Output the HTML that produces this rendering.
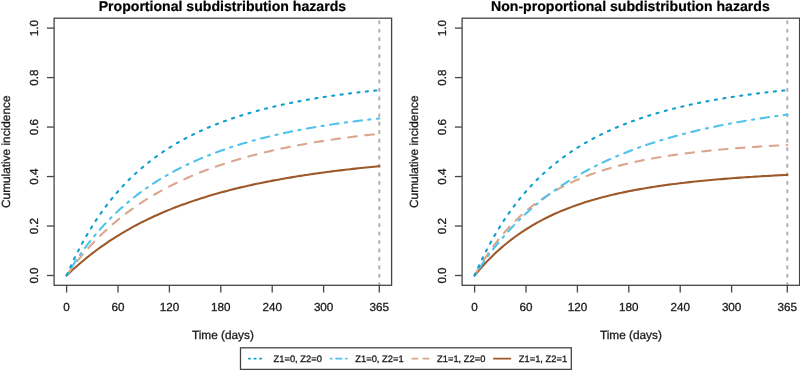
<!DOCTYPE html>
<html><head><meta charset="utf-8"><title>Cumulative incidence</title><style>
html,body{margin:0;padding:0;background:#fff;}
svg{display:block;will-change:transform;}
text{font-family:"Liberation Sans",sans-serif;fill:#1a1a1a;stroke:#1a1a1a;stroke-width:0.3px;text-rendering:geometricPrecision;}
.ttl{font-size:14.1px;font-weight:bold;text-anchor:middle;fill:#000;stroke:#000;stroke-width:0.2px;}
.tk{font-size:11.67px;text-anchor:middle;}
.lab{font-size:11.83px;text-anchor:middle;}
.lg{font-size:9.33px;}
</style></head><body>
<svg width="800" height="370" viewBox="0 0 800 370">
<rect width="800" height="370" fill="#fff"/>
<text x="222.4" y="10.7" class="ttl">Proportional subdistribution hazards</text>
<line x1="379.30" y1="285.30" x2="379.30" y2="18.20" stroke="#b2b2b2" stroke-width="2.1" stroke-dasharray="2.1 6.35" stroke-linecap="round"/>
<path d="M66.60,275.50 L69.10,273.12 L71.82,270.60 L74.32,268.32 L77.03,265.91 L79.53,263.74 L82.25,261.44 L84.96,259.19 L87.46,257.16 L90.17,255.01 L92.68,253.07 L95.39,251.02 L98.10,249.01 L100.60,247.20 L103.31,245.28 L105.82,243.55 L108.53,241.71 L111.24,239.92 L113.74,238.30 L116.46,236.58 L118.96,235.03 L121.67,233.39 L124.38,231.78 L126.89,230.33 L129.60,228.80 L132.10,227.41 L134.81,225.93 L137.53,224.49 L140.03,223.19 L142.74,221.81 L145.24,220.57 L147.96,219.24 L150.67,217.95 L153.17,216.78 L155.88,215.54 L158.39,214.42 L161.10,213.23 L163.81,212.07 L166.31,211.01 L169.03,209.90 L171.53,208.89 L174.24,207.81 L176.95,206.77 L179.46,205.82 L182.17,204.81 L184.67,203.90 L187.38,202.93 L190.09,201.98 L192.60,201.13 L195.31,200.22 L197.81,199.39 L200.52,198.52 L203.24,197.66 L205.74,196.89 L208.45,196.06 L210.96,195.32 L213.67,194.53 L216.38,193.75 L218.88,193.05 L221.59,192.30 L224.10,191.62 L226.81,190.91 L229.31,190.25 L232.02,189.56 L234.74,188.89 L237.24,188.27 L239.95,187.62 L242.45,187.03 L245.17,186.40 L247.88,185.78 L250.38,185.22 L253.09,184.63 L255.60,184.09 L258.31,183.52 L261.02,182.96 L263.52,182.45 L266.24,181.90 L268.74,181.41 L271.45,180.89 L274.16,180.38 L276.67,179.91 L279.38,179.42 L281.88,178.97 L284.59,178.49 L287.30,178.02 L289.81,177.60 L292.52,177.14 L295.02,176.73 L297.74,176.30 L300.45,175.87 L302.95,175.48 L305.66,175.06 L308.17,174.69 L310.88,174.29 L313.59,173.89 L316.09,173.54 L318.80,173.15 L321.31,172.81 L324.02,172.44 L326.73,172.08 L329.23,171.75 L331.95,171.40 L334.45,171.08 L337.16,170.75 L339.87,170.41 L342.38,170.11 L345.09,169.79 L347.59,169.50 L350.30,169.19 L353.02,168.88 L355.52,168.60 L358.23,168.30 L360.73,168.04 L363.45,167.75 L366.16,167.47 L368.66,167.21 L371.37,166.93 L373.88,166.69 L376.59,166.42 L379.30,166.16" fill="none" stroke="#9e592a" stroke-width="2.1" stroke-linecap="round" stroke-linejoin="round"/>
<path d="M67.23,274.61 L67.43,274.32 L68.27,273.15 L69.10,271.99 L69.94,270.84 L70.77,269.70 L71.61,268.57 L72.27,267.69 M77.42,261.02 L77.45,260.99 L78.28,259.95 L79.12,258.91 L79.95,257.89 L80.79,256.88 L81.62,255.87 L82.45,254.88 L82.85,254.41 M88.40,248.05 L88.50,247.94 L89.55,246.79 L90.59,245.65 L91.63,244.52 L92.68,243.41 L93.72,242.31 L94.22,241.78 M100.15,235.79 L100.19,235.75 L101.23,234.74 L102.27,233.73 L103.31,232.74 L104.36,231.75 L105.40,230.78 L106.36,229.90 M112.65,224.29 L112.70,224.25 L113.74,223.35 L114.79,222.47 L115.83,221.59 L116.87,220.73 L117.92,219.87 L118.96,219.02 L119.22,218.80 M125.86,213.61 L126.05,213.46 L127.10,212.68 L128.14,211.90 L129.18,211.13 L130.22,210.37 L131.27,209.61 L132.31,208.87 L132.76,208.54 M139.71,203.77 L139.82,203.69 L141.07,202.86 L142.32,202.05 L143.58,201.24 L144.83,200.44 L146.08,199.65 L146.90,199.13 M154.12,194.77 L154.21,194.71 L155.47,193.99 L156.72,193.27 L157.97,192.56 L159.22,191.85 L160.47,191.16 L161.57,190.55 M169.01,186.60 L169.03,186.59 L170.28,185.95 L171.53,185.32 L172.78,184.70 L174.03,184.08 L175.28,183.46 L176.54,182.86 L176.68,182.79 M184.32,179.22 L184.46,179.16 L185.71,178.59 L186.97,178.04 L188.22,177.49 L189.47,176.94 L190.72,176.40 L191.97,175.87 L192.16,175.79 M199.95,172.59 L200.11,172.53 L201.36,172.03 L202.61,171.54 L203.86,171.06 L205.11,170.57 L206.37,170.10 L207.62,169.63 L207.94,169.51 M215.87,166.64 L215.96,166.61 L217.21,166.17 L218.46,165.74 L219.72,165.31 L220.97,164.89 L222.22,164.47 L223.47,164.05 L223.97,163.89 M232.00,161.33 L232.02,161.32 L233.48,160.87 L234.94,160.43 L236.41,159.99 L237.87,159.55 L239.33,159.13 L240.20,158.87 M248.32,156.59 L248.50,156.54 L249.76,156.20 L251.01,155.86 L252.26,155.53 L253.51,155.20 L254.76,154.87 L256.01,154.55 L256.60,154.40 M264.78,152.37 L264.98,152.32 L266.24,152.02 L267.49,151.72 L268.74,151.43 L269.99,151.14 L271.24,150.85 L272.49,150.56 L273.11,150.42 M281.35,148.62 L281.46,148.59 L282.92,148.28 L284.38,147.98 L285.84,147.67 L287.30,147.38 L288.77,147.08 L289.73,146.89 M298.01,145.28 L298.15,145.25 L299.61,144.98 L301.07,144.71 L302.53,144.45 L303.99,144.18 L305.45,143.92 L306.43,143.75 M314.74,142.32 L314.84,142.31 L316.30,142.06 L317.76,141.83 L319.22,141.59 L320.68,141.36 L322.14,141.13 L323.19,140.96 M331.52,139.70 L331.53,139.70 L332.99,139.48 L334.45,139.27 L335.91,139.06 L337.37,138.86 L338.83,138.65 L340.00,138.49 M348.35,137.37 L348.43,137.36 L349.89,137.17 L351.35,136.99 L352.81,136.80 L354.27,136.62 L355.73,136.44 L356.84,136.30 M365.22,135.31 L365.32,135.30 L366.78,135.13 L368.24,134.96 L369.70,134.80 L371.16,134.64 L372.62,134.48 L373.72,134.36" fill="none" stroke="#dba68e" stroke-width="2.1" stroke-linecap="round" stroke-linejoin="round"/>
<path d="M67.15,274.58 L67.23,274.46 L67.43,274.11 L67.64,273.77 L67.85,273.42 L68.06,273.08 L68.26,272.75 M71.66,267.30 L71.82,267.05 L72.65,265.75 L73.48,264.46 L74.32,263.18 L75.15,261.92 L75.99,260.67 L76.35,260.14 M79.97,254.87 L80.16,254.60 L80.37,254.30 L80.58,254.01 L80.79,253.71 L80.99,253.42 L81.20,253.13 L81.21,253.12 M84.99,247.94 L85.17,247.70 L86.00,246.59 L86.83,245.49 L87.67,244.40 L88.50,243.32 L89.34,242.25 L90.17,241.19 L90.21,241.15 M94.23,236.18 L94.34,236.05 L94.55,235.80 L94.76,235.55 L94.97,235.30 L95.18,235.05 L95.39,234.80 L95.60,234.56 L95.61,234.54 M99.80,229.68 L99.98,229.48 L100.81,228.55 L101.65,227.62 L102.48,226.70 L103.31,225.78 L104.15,224.88 L104.98,223.99 L105.57,223.36 M110.01,218.76 L110.20,218.57 L110.41,218.36 L110.62,218.15 L110.82,217.94 L111.03,217.73 L111.24,217.52 L111.45,217.32 L111.52,217.24 M116.13,212.77 L116.25,212.66 L117.29,211.68 L118.33,210.71 L119.38,209.75 L120.42,208.80 L121.46,207.86 L122.44,206.99 M127.28,202.81 L127.30,202.79 L127.51,202.61 L127.72,202.44 L127.93,202.26 L128.14,202.09 L128.35,201.92 L128.56,201.74 L128.76,201.57 L128.92,201.44 M133.91,197.41 L133.98,197.36 L135.02,196.54 L136.07,195.73 L137.11,194.93 L138.15,194.14 L139.19,193.36 L140.24,192.58 L140.73,192.22 M145.92,188.50 L146.08,188.39 L146.29,188.24 L146.50,188.10 L146.70,187.95 L146.91,187.81 L147.12,187.67 L147.33,187.52 L147.54,187.38 L147.68,187.28 M153.02,183.71 L153.17,183.61 L154.42,182.80 L155.67,182.00 L156.93,181.21 L158.18,180.43 L159.43,179.65 L160.26,179.15 M165.76,175.89 L165.90,175.80 L166.10,175.68 L166.31,175.56 L166.52,175.44 L166.73,175.32 L166.94,175.21 L167.15,175.09 L167.36,174.97 L167.57,174.85 L167.61,174.82 M173.23,171.71 L173.41,171.62 L174.66,170.94 L175.91,170.28 L177.16,169.63 L178.41,168.98 L179.66,168.34 L180.82,167.75 M186.56,164.94 L186.76,164.84 L186.97,164.74 L187.17,164.64 L187.38,164.54 L187.59,164.44 L187.80,164.34 L188.01,164.25 L188.22,164.15 L188.43,164.05 L188.49,164.02 M194.33,161.34 L194.48,161.28 L195.73,160.72 L196.98,160.17 L198.23,159.63 L199.48,159.09 L200.73,158.56 L201.99,158.03 L202.18,157.95 M208.11,155.54 L208.24,155.48 L208.45,155.40 L208.66,155.32 L208.87,155.23 L209.08,155.15 L209.29,155.07 L209.49,154.99 L209.70,154.91 L209.91,154.82 L210.10,154.75 M216.10,152.47 L216.17,152.44 L217.42,151.98 L218.67,151.52 L219.93,151.07 L221.18,150.62 L222.43,150.18 L223.68,149.74 L224.15,149.58 M230.21,147.53 L230.36,147.48 L230.77,147.34 L231.19,147.21 L231.61,147.07 L232.02,146.93 L232.24,146.86 M238.36,144.93 L238.49,144.89 L239.74,144.50 L240.99,144.12 L242.25,143.75 L243.50,143.37 L244.75,143.00 L246.00,142.64 L246.57,142.47 M252.72,140.74 L252.88,140.69 L253.30,140.58 L253.72,140.46 L254.14,140.35 L254.55,140.24 L254.78,140.18 M260.99,138.54 L261.02,138.53 L262.48,138.15 L263.94,137.78 L265.40,137.42 L266.86,137.06 L268.32,136.70 L269.29,136.46 M275.52,135.00 L275.62,134.97 L276.04,134.88 L276.46,134.78 L276.87,134.68 L277.29,134.59 L277.60,134.52 M283.87,133.13 L283.97,133.11 L285.43,132.80 L286.89,132.49 L288.35,132.18 L289.81,131.88 L291.27,131.58 L292.25,131.38 M298.52,130.14 L298.57,130.13 L298.99,130.05 L299.40,129.97 L299.82,129.89 L300.24,129.81 L300.62,129.74 M306.94,128.57 L307.12,128.54 L308.58,128.27 L310.04,128.01 L311.50,127.76 L312.96,127.50 L314.42,127.25 L315.37,127.09 M321.67,126.05 L321.72,126.04 L322.14,125.97 L322.56,125.90 L322.98,125.84 L323.39,125.77 L323.79,125.71 M330.13,124.72 L330.28,124.69 L331.74,124.47 L333.20,124.26 L334.66,124.04 L336.12,123.83 L337.58,123.61 L338.60,123.47 M344.93,122.58 L345.09,122.56 L345.51,122.51 L345.92,122.45 L346.34,122.39 L346.76,122.34 L347.05,122.30 M353.42,121.46 L353.43,121.46 L354.89,121.27 L356.35,121.09 L357.81,120.91 L359.27,120.73 L360.73,120.55 L361.91,120.41 M368.26,119.66 L368.45,119.64 L368.87,119.59 L369.29,119.54 L369.70,119.50 L370.12,119.45 L370.39,119.42 M376.77,118.71 L376.80,118.71 L377.21,118.67 L377.63,118.62 L378.05,118.58 L378.47,118.53 L378.88,118.49 L379.30,118.44" fill="none" stroke="#52c2ea" stroke-width="2.1" stroke-linecap="round" stroke-linejoin="round"/>
<path d="M66.66,275.37 L66.81,275.02 L67.02,274.54 L67.23,274.06 L67.43,273.58 L67.51,273.40 M70.26,267.28 L70.35,267.06 L70.56,266.61 L70.77,266.16 L70.98,265.70 L71.15,265.34 M74.02,259.28 L74.11,259.09 L74.32,258.66 L74.53,258.23 L74.74,257.80 L74.94,257.37 L74.95,257.36 M77.95,251.37 L78.07,251.13 L78.28,250.73 L78.49,250.32 L78.70,249.92 L78.91,249.52 L78.93,249.47 M82.06,243.57 L82.25,243.24 L82.45,242.86 L82.66,242.48 L82.87,242.10 L83.08,241.72 L83.09,241.69 M86.37,235.88 L86.42,235.80 L86.63,235.44 L86.83,235.08 L87.04,234.73 L87.25,234.37 L87.45,234.03 M90.88,228.32 L91.01,228.11 L91.22,227.78 L91.42,227.44 L91.63,227.10 L91.84,226.77 L92.01,226.50 M95.60,220.90 L95.80,220.58 L96.01,220.27 L96.22,219.95 L96.43,219.64 L96.64,219.32 L96.78,219.11 M100.53,213.63 L100.60,213.53 L100.81,213.23 L101.02,212.93 L101.23,212.64 L101.44,212.35 L101.65,212.05 L101.77,211.88 M105.69,206.52 L105.82,206.36 L106.03,206.08 L106.24,205.80 L106.44,205.53 L106.65,205.25 L106.86,204.98 L106.98,204.82 M111.08,199.60 L111.24,199.40 L111.45,199.14 L111.66,198.89 L111.87,198.63 L112.08,198.37 L112.28,198.12 L112.43,197.94 M116.69,192.88 L116.87,192.67 L117.08,192.43 L117.29,192.20 L117.50,191.96 L117.71,191.72 L117.92,191.48 L118.10,191.27 M122.54,186.37 L122.71,186.19 L122.92,185.96 L123.13,185.74 L123.34,185.52 L123.55,185.30 L123.76,185.08 L123.97,184.86 L124.01,184.81 M128.62,180.09 L128.76,179.94 L128.97,179.74 L129.18,179.53 L129.39,179.32 L129.60,179.12 L129.81,178.91 L130.02,178.71 L130.14,178.58 M134.92,174.04 L135.02,173.95 L135.23,173.76 L135.44,173.56 L135.65,173.37 L135.86,173.18 L136.07,172.99 L136.27,172.80 L136.48,172.61 L136.50,172.60 M141.44,168.24 L141.49,168.20 L141.70,168.03 L141.91,167.85 L142.12,167.67 L142.32,167.49 L142.53,167.32 L142.74,167.14 L142.95,166.97 L143.07,166.86 M148.17,162.70 L148.37,162.54 L148.58,162.38 L148.79,162.21 L149.00,162.05 L149.21,161.89 L149.42,161.72 L149.63,161.56 L149.83,161.40 L149.85,161.38 M155.10,157.42 L155.26,157.31 L155.47,157.15 L155.67,157.00 L155.88,156.85 L156.09,156.70 L156.30,156.55 L156.51,156.40 L156.72,156.25 L156.83,156.17 M162.20,152.41 L162.35,152.31 L162.56,152.17 L162.77,152.03 L162.98,151.89 L163.18,151.75 L163.39,151.61 L163.60,151.47 L163.81,151.33 L163.98,151.22 M169.48,147.66 L169.65,147.56 L169.86,147.43 L170.07,147.29 L170.28,147.16 L170.49,147.04 L170.69,146.91 L170.90,146.78 L171.11,146.65 L171.30,146.53 M176.91,143.18 L176.95,143.15 L177.16,143.03 L177.37,142.91 L177.58,142.79 L177.79,142.67 L178.00,142.55 L178.20,142.43 L178.41,142.31 L178.62,142.19 L178.77,142.11 M184.49,138.95 L184.67,138.85 L184.88,138.74 L185.09,138.62 L185.30,138.51 L185.51,138.40 L185.71,138.29 L185.92,138.18 L186.13,138.07 L186.34,137.96 L186.37,137.94 M192.18,134.97 L192.39,134.87 L192.60,134.76 L192.81,134.66 L193.02,134.56 L193.22,134.45 L193.43,134.35 L193.64,134.25 L193.85,134.15 L194.06,134.05 L194.10,134.02 M199.99,131.23 L200.11,131.18 L200.32,131.08 L200.52,130.99 L200.73,130.89 L200.94,130.80 L201.15,130.70 L201.36,130.61 L201.57,130.51 L201.78,130.42 L201.94,130.35 M207.89,127.73 L208.03,127.67 L208.24,127.58 L208.45,127.49 L208.66,127.41 L208.87,127.32 L209.08,127.23 L209.29,127.14 L209.49,127.05 L209.70,126.97 L209.86,126.90 M215.88,124.45 L215.96,124.42 L216.38,124.25 L216.80,124.09 L217.21,123.93 L217.63,123.76 L217.87,123.67 M223.95,121.38 L224.10,121.32 L224.31,121.25 L224.51,121.17 L224.72,121.10 L224.93,121.02 L225.14,120.94 L225.35,120.87 L225.56,120.79 L225.77,120.72 L225.96,120.65 M232.07,118.51 L232.23,118.45 L232.44,118.38 L232.65,118.31 L232.86,118.24 L233.07,118.17 L233.28,118.10 L233.48,118.03 L233.69,117.96 L233.90,117.89 L234.10,117.82 M240.26,115.82 L240.37,115.79 L240.79,115.66 L241.20,115.53 L241.62,115.40 L242.04,115.27 L242.30,115.19 M248.48,113.32 L248.50,113.31 L248.92,113.19 L249.34,113.07 L249.76,112.95 L250.17,112.83 L250.54,112.72 M256.75,110.98 L256.85,110.95 L257.27,110.84 L257.68,110.72 L258.10,110.61 L258.52,110.50 L258.82,110.42 M265.05,108.79 L265.19,108.76 L265.61,108.65 L266.03,108.55 L266.44,108.44 L266.86,108.34 L267.13,108.27 M273.38,106.75 L273.54,106.71 L273.95,106.62 L274.37,106.52 L274.79,106.42 L275.21,106.32 L275.47,106.26 M281.74,104.85 L281.88,104.81 L282.30,104.72 L282.72,104.63 L283.13,104.54 L283.55,104.45 L283.83,104.39 M290.11,103.07 L290.23,103.05 L290.64,102.96 L291.06,102.88 L291.48,102.79 L291.89,102.71 L292.20,102.64 M298.49,101.41 L298.57,101.40 L298.99,101.32 L299.40,101.24 L299.82,101.16 L300.24,101.08 L300.60,101.01 M306.89,99.86 L306.91,99.86 L307.33,99.78 L307.75,99.71 L308.17,99.64 L308.58,99.56 L309.00,99.49 L309.00,99.49 M315.30,98.42 L315.47,98.39 L315.88,98.32 L316.30,98.25 L316.72,98.18 L317.14,98.11 L317.41,98.07 M323.72,97.07 L323.81,97.05 L324.23,96.99 L324.65,96.92 L325.06,96.86 L325.48,96.80 L325.83,96.74 M332.14,95.81 L332.16,95.81 L332.57,95.75 L332.99,95.69 L333.41,95.63 L333.82,95.57 L334.24,95.51 L334.26,95.50 M340.56,94.63 L340.71,94.61 L341.13,94.56 L341.54,94.50 L341.96,94.44 L342.38,94.39 L342.68,94.35 M348.99,93.53 L349.05,93.53 L349.47,93.47 L349.89,93.42 L350.30,93.37 L350.72,93.32 L351.11,93.27 M357.41,92.51 L357.61,92.49 L358.02,92.44 L358.44,92.39 L358.86,92.34 L359.27,92.29 L359.54,92.26 M365.84,91.55 L365.95,91.54 L366.37,91.49 L366.78,91.45 L367.20,91.40 L367.62,91.36 L367.96,91.32 M374.26,90.66 L374.29,90.65 L374.71,90.61 L375.13,90.57 L375.55,90.52 L375.96,90.48 L376.38,90.44 L376.39,90.44" fill="none" stroke="#0f9fcb" stroke-width="2.1" stroke-linecap="round" stroke-linejoin="round"/>
<rect x="54.10" y="18.20" width="337.50" height="267.10" fill="none" stroke="#454545" stroke-width="1.3"/>
<line x1="66.60" y1="285.30" x2="66.60" y2="292.50" stroke="#454545" stroke-width="1.3"/>
<text x="66.60" y="311.2" class="tk">0</text>
<line x1="118.00" y1="285.30" x2="118.00" y2="292.50" stroke="#454545" stroke-width="1.3"/>
<text x="118.00" y="311.2" class="tk">60</text>
<line x1="169.41" y1="285.30" x2="169.41" y2="292.50" stroke="#454545" stroke-width="1.3"/>
<text x="169.41" y="311.2" class="tk">120</text>
<line x1="220.81" y1="285.30" x2="220.81" y2="292.50" stroke="#454545" stroke-width="1.3"/>
<text x="220.81" y="311.2" class="tk">180</text>
<line x1="272.21" y1="285.30" x2="272.21" y2="292.50" stroke="#454545" stroke-width="1.3"/>
<text x="272.21" y="311.2" class="tk">240</text>
<line x1="323.61" y1="285.30" x2="323.61" y2="292.50" stroke="#454545" stroke-width="1.3"/>
<text x="323.61" y="311.2" class="tk">300</text>
<line x1="379.30" y1="285.30" x2="379.30" y2="292.50" stroke="#454545" stroke-width="1.3"/>
<text x="379.30" y="311.2" class="tk">365</text>
<line x1="54.10" y1="275.50" x2="46.90" y2="275.50" stroke="#454545" stroke-width="1.3"/>
<text transform="translate(37.70,275.50) rotate(-90)" class="tk">0.0</text>
<line x1="54.10" y1="226.02" x2="46.90" y2="226.02" stroke="#454545" stroke-width="1.3"/>
<text transform="translate(37.70,226.02) rotate(-90)" class="tk">0.2</text>
<line x1="54.10" y1="176.54" x2="46.90" y2="176.54" stroke="#454545" stroke-width="1.3"/>
<text transform="translate(37.70,176.54) rotate(-90)" class="tk">0.4</text>
<line x1="54.10" y1="127.06" x2="46.90" y2="127.06" stroke="#454545" stroke-width="1.3"/>
<text transform="translate(37.70,127.06) rotate(-90)" class="tk">0.6</text>
<line x1="54.10" y1="77.58" x2="46.90" y2="77.58" stroke="#454545" stroke-width="1.3"/>
<text transform="translate(37.70,77.58) rotate(-90)" class="tk">0.8</text>
<line x1="54.10" y1="28.10" x2="46.90" y2="28.10" stroke="#454545" stroke-width="1.3"/>
<text transform="translate(37.70,28.10) rotate(-90)" class="tk">1.0</text>
<text x="222.9" y="339.2" class="lab">Time (days)</text>
<text transform="translate(9.80,151.75) rotate(-90)" class="lab">Cumulative incidence</text>
<text x="630.4" y="10.7" class="ttl">Non-proportional subdistribution hazards</text>
<line x1="787.30" y1="285.30" x2="787.30" y2="18.20" stroke="#b2b2b2" stroke-width="2.1" stroke-dasharray="2.1 6.35" stroke-linecap="round"/>
<path d="M474.60,275.50 L477.10,272.48 L479.82,269.32 L482.32,266.49 L485.03,263.54 L487.53,260.90 L490.25,258.14 L492.96,255.47 L495.46,253.08 L498.17,250.59 L500.68,248.36 L503.39,246.02 L506.10,243.77 L508.60,241.75 L511.31,239.64 L513.82,237.75 L516.53,235.77 L519.24,233.86 L521.74,232.15 L524.46,230.35 L526.96,228.75 L529.67,227.07 L532.38,225.44 L534.89,223.98 L537.60,222.45 L540.10,221.09 L542.81,219.65 L545.53,218.27 L548.03,217.02 L550.74,215.72 L553.24,214.55 L555.96,213.32 L558.67,212.14 L561.17,211.07 L563.88,209.96 L566.39,208.95 L569.10,207.90 L571.81,206.88 L574.31,205.97 L577.03,205.01 L579.53,204.15 L582.24,203.24 L584.95,202.36 L587.46,201.58 L590.17,200.75 L592.67,200.00 L595.38,199.22 L598.09,198.46 L600.60,197.78 L603.31,197.06 L605.81,196.42 L608.52,195.74 L611.24,195.09 L613.74,194.49 L616.45,193.87 L618.96,193.31 L621.67,192.72 L624.38,192.15 L626.88,191.63 L629.59,191.09 L632.10,190.60 L634.81,190.09 L637.31,189.63 L640.02,189.14 L642.74,188.66 L645.24,188.24 L647.95,187.79 L650.45,187.38 L653.17,186.95 L655.88,186.54 L658.38,186.16 L661.09,185.76 L663.60,185.41 L666.31,185.03 L669.02,184.66 L671.52,184.33 L674.24,183.98 L676.74,183.67 L679.45,183.33 L682.16,183.01 L684.67,182.72 L687.38,182.41 L689.88,182.13 L692.59,181.83 L695.30,181.55 L697.81,181.29 L700.52,181.01 L703.02,180.76 L705.74,180.50 L708.45,180.25 L710.95,180.02 L713.66,179.77 L716.17,179.55 L718.88,179.32 L721.59,179.09 L724.09,178.88 L726.80,178.66 L729.31,178.46 L732.02,178.26 L734.73,178.05 L737.23,177.87 L739.95,177.67 L742.45,177.49 L745.16,177.31 L747.87,177.12 L750.38,176.96 L753.09,176.78 L755.59,176.62 L758.30,176.45 L761.02,176.29 L763.52,176.14 L766.23,175.98 L768.73,175.84 L771.45,175.68 L774.16,175.53 L776.66,175.40 L779.37,175.26 L781.88,175.13 L784.59,174.99 L787.30,174.85" fill="none" stroke="#9e592a" stroke-width="2.1" stroke-linecap="round" stroke-linejoin="round"/>
<path d="M475.02,274.75 L475.23,274.38 L475.85,273.28 L476.48,272.19 L477.10,271.10 L477.73,270.03 L478.35,268.97 L478.98,267.91 L479.32,267.35 M483.73,260.23 L483.78,260.16 L484.61,258.87 L485.45,257.59 L486.28,256.33 L487.12,255.09 L487.95,253.86 L488.47,253.10 M493.33,246.29 L493.37,246.23 L494.21,245.11 L495.04,244.00 L495.88,242.91 L496.71,241.83 L497.55,240.76 L498.38,239.71 L498.54,239.50 M503.89,233.06 L504.01,232.92 L504.85,231.96 L505.68,231.01 L506.52,230.08 L507.35,229.15 L508.19,228.24 L509.02,227.33 L509.62,226.70 M515.47,220.71 L515.49,220.69 L516.53,219.68 L517.57,218.67 L518.62,217.69 L519.66,216.72 L520.70,215.76 L521.71,214.85 M528.06,209.39 L528.21,209.27 L529.25,208.42 L530.30,207.58 L531.34,206.75 L532.38,205.94 L533.43,205.14 L534.47,204.35 L534.79,204.11 M541.60,199.24 L541.77,199.12 L543.02,198.27 L544.27,197.44 L545.53,196.62 L546.78,195.82 L548.03,195.03 L548.77,194.56 M555.98,190.30 L556.16,190.20 L557.42,189.50 L558.67,188.81 L559.92,188.13 L561.17,187.47 L562.42,186.81 L563.52,186.25 M571.04,182.58 L571.18,182.51 L572.44,181.94 L573.69,181.37 L574.94,180.81 L576.19,180.26 L577.44,179.72 L578.69,179.19 L578.87,179.12 M586.64,176.00 L586.83,175.93 L588.08,175.45 L589.33,174.99 L590.58,174.53 L591.84,174.07 L593.09,173.63 L594.34,173.19 L594.68,173.07 M602.63,170.44 L602.68,170.42 L604.14,169.97 L605.60,169.52 L607.06,169.08 L608.52,168.64 L609.99,168.22 L610.83,167.98 M618.91,165.77 L618.96,165.75 L620.42,165.37 L621.88,165.00 L623.34,164.64 L624.80,164.28 L626.26,163.92 L627.21,163.70 M635.38,161.84 L635.44,161.83 L636.90,161.51 L638.36,161.20 L639.82,160.90 L641.28,160.60 L642.74,160.31 L643.76,160.10 M651.98,158.54 L652.12,158.52 L653.58,158.25 L655.04,158.00 L656.50,157.74 L657.96,157.49 L659.42,157.24 L660.42,157.08 M668.69,155.76 L668.81,155.74 L670.27,155.52 L671.73,155.31 L673.19,155.09 L674.65,154.88 L676.11,154.67 L677.16,154.53 M685.46,153.41 L685.50,153.41 L686.96,153.22 L688.42,153.04 L689.88,152.86 L691.34,152.68 L692.80,152.50 L693.95,152.37 M702.27,151.42 L702.40,151.41 L703.86,151.25 L705.32,151.09 L706.78,150.94 L708.24,150.79 L709.70,150.64 L710.78,150.53 M719.12,149.72 L719.29,149.71 L720.75,149.57 L722.22,149.44 L723.68,149.31 L725.14,149.18 L726.60,149.05 L727.64,148.96 M735.99,148.27 L736.19,148.26 L737.65,148.14 L739.11,148.03 L740.57,147.92 L742.03,147.81 L743.49,147.70 L744.52,147.62 M752.88,147.03 L752.88,147.03 L754.34,146.93 L755.80,146.83 L757.26,146.74 L758.72,146.64 L760.18,146.55 L761.42,146.47 M769.78,145.96 L769.78,145.96 L771.24,145.88 L772.70,145.79 L774.16,145.71 L775.62,145.63 L777.08,145.55 L778.32,145.48 M786.68,145.04 L786.88,145.03 L787.09,145.02 L787.30,145.01" fill="none" stroke="#dba68e" stroke-width="2.1" stroke-linecap="round" stroke-linejoin="round"/>
<path d="M474.62,275.47 L474.81,275.17 L475.02,274.85 L475.23,274.52 L475.43,274.20 L475.64,273.88 L475.77,273.68 M479.31,268.32 L479.40,268.19 L480.23,266.96 L481.07,265.74 L481.90,264.53 L482.74,263.33 L483.57,262.14 L484.18,261.28 M487.92,256.11 L487.95,256.07 L488.16,255.79 L488.37,255.51 L488.58,255.23 L488.79,254.95 L488.99,254.67 L489.20,254.39 M493.10,249.29 L493.17,249.21 L494.00,248.15 L494.83,247.10 L495.67,246.05 L496.50,245.02 L497.34,243.99 L498.17,242.97 L498.46,242.62 M502.58,237.75 L502.76,237.53 L502.97,237.29 L503.18,237.05 L503.39,236.81 L503.60,236.57 L503.80,236.33 L503.98,236.13 M508.26,231.34 L508.39,231.19 L509.44,230.06 L510.48,228.93 L511.52,227.82 L512.57,226.72 L513.61,225.63 L514.12,225.11 M518.61,220.57 L518.62,220.56 L518.82,220.36 L519.03,220.15 L519.24,219.95 L519.45,219.74 L519.66,219.54 L519.87,219.33 L520.08,219.13 L520.14,219.07 M524.79,214.65 L524.87,214.56 L525.92,213.60 L526.96,212.64 L528.00,211.70 L529.05,210.76 L530.09,209.83 L531.13,208.92 L531.14,208.91 M535.98,204.76 L536.14,204.63 L536.35,204.46 L536.56,204.28 L536.76,204.11 L536.97,203.94 L537.18,203.76 L537.39,203.59 L537.60,203.42 L537.63,203.39 M542.63,199.36 L542.81,199.22 L543.86,198.40 L544.90,197.60 L545.94,196.79 L546.99,196.00 L548.03,195.22 L549.07,194.44 L549.43,194.17 M554.60,190.43 L554.70,190.36 L554.91,190.21 L555.12,190.06 L555.33,189.92 L555.54,189.77 L555.75,189.63 L555.96,189.48 L556.16,189.33 L556.35,189.20 M561.66,185.59 L561.80,185.50 L563.05,184.68 L564.30,183.86 L565.55,183.05 L566.80,182.25 L568.06,181.46 L568.86,180.96 M574.30,177.63 L574.31,177.63 L574.52,177.50 L574.73,177.38 L574.94,177.26 L575.15,177.13 L575.36,177.01 L575.57,176.89 L575.77,176.76 L575.98,176.64 L576.15,176.54 M581.71,173.35 L581.82,173.29 L583.07,172.59 L584.33,171.90 L585.58,171.22 L586.83,170.54 L588.08,169.87 L589.24,169.26 M594.91,166.34 L594.97,166.31 L595.17,166.21 L595.38,166.10 L595.59,166.00 L595.80,165.89 L596.01,165.79 L596.22,165.69 L596.43,165.58 L596.63,165.48 L596.82,165.39 M602.60,162.59 L602.68,162.55 L603.94,161.96 L605.19,161.38 L606.44,160.80 L607.69,160.23 L608.94,159.66 L610.19,159.10 L610.38,159.02 M616.23,156.47 L616.24,156.46 L616.66,156.29 L617.08,156.11 L617.49,155.93 L617.91,155.76 L618.20,155.64 M624.14,153.20 L624.17,153.19 L625.42,152.69 L626.67,152.20 L627.93,151.71 L629.18,151.23 L630.43,150.75 L631.68,150.27 L632.12,150.10 M638.11,147.90 L638.15,147.88 L638.56,147.73 L638.98,147.58 L639.40,147.43 L639.82,147.28 L640.12,147.18 M646.19,145.07 L646.28,145.04 L647.53,144.61 L648.79,144.20 L650.04,143.78 L651.29,143.37 L652.54,142.96 L653.79,142.56 L654.32,142.39 M660.40,140.48 L660.47,140.46 L660.88,140.34 L661.30,140.21 L661.72,140.08 L662.14,139.95 L662.45,139.86 M668.61,138.04 L668.81,137.98 L670.06,137.62 L671.32,137.27 L672.57,136.91 L673.82,136.56 L675.07,136.22 L676.32,135.87 L676.85,135.73 M683.01,134.09 L683.21,134.04 L683.62,133.93 L684.04,133.82 L684.46,133.71 L684.87,133.60 L685.09,133.55 M691.31,131.98 L691.34,131.97 L692.80,131.62 L694.26,131.26 L695.72,130.91 L697.18,130.57 L698.64,130.22 L699.64,129.99 M705.86,128.57 L705.94,128.55 L706.36,128.46 L706.78,128.37 L707.20,128.28 L707.61,128.18 L707.95,128.11 M714.22,126.76 L714.29,126.75 L715.75,126.44 L717.21,126.14 L718.67,125.84 L720.13,125.54 L721.59,125.25 L722.61,125.05 M728.87,123.83 L728.89,123.82 L729.31,123.74 L729.72,123.67 L730.14,123.59 L730.56,123.51 L730.98,123.43 M737.29,122.27 L737.44,122.24 L738.90,121.98 L740.36,121.72 L741.82,121.46 L743.28,121.21 L744.74,120.96 L745.72,120.79 M752.01,119.74 L752.05,119.74 L752.46,119.67 L752.88,119.60 L753.30,119.53 L753.71,119.47 L754.13,119.40 M760.47,118.40 L760.60,118.38 L762.06,118.15 L763.52,117.93 L764.98,117.71 L766.44,117.49 L767.90,117.28 L768.93,117.13 M775.25,116.22 L775.41,116.20 L775.83,116.14 L776.24,116.08 L776.66,116.03 L777.08,115.97 L777.37,115.93 M783.73,115.07 L783.75,115.06 L784.38,114.98 L785.01,114.90 L785.63,114.82 L786.26,114.74 L786.88,114.65 L787.30,114.60" fill="none" stroke="#52c2ea" stroke-width="2.1" stroke-linecap="round" stroke-linejoin="round"/>
<path d="M474.66,275.37 L474.81,275.02 L475.02,274.54 L475.23,274.06 L475.43,273.58 L475.51,273.40 M478.26,267.28 L478.35,267.06 L478.56,266.61 L478.77,266.16 L478.98,265.70 L479.15,265.34 M482.02,259.28 L482.11,259.09 L482.32,258.66 L482.53,258.23 L482.74,257.80 L482.94,257.37 L482.95,257.36 M485.95,251.37 L486.07,251.13 L486.28,250.73 L486.49,250.32 L486.70,249.92 L486.91,249.52 L486.93,249.47 M490.06,243.57 L490.25,243.24 L490.45,242.86 L490.66,242.48 L490.87,242.10 L491.08,241.72 L491.09,241.69 M494.37,235.88 L494.42,235.80 L494.63,235.44 L494.83,235.08 L495.04,234.73 L495.25,234.37 L495.45,234.03 M498.88,228.32 L499.01,228.11 L499.22,227.78 L499.42,227.44 L499.63,227.10 L499.84,226.77 L500.01,226.50 M503.60,220.90 L503.80,220.58 L504.01,220.27 L504.22,219.95 L504.43,219.64 L504.64,219.32 L504.78,219.11 M508.53,213.63 L508.60,213.53 L508.81,213.23 L509.02,212.93 L509.23,212.64 L509.44,212.35 L509.65,212.05 L509.77,211.88 M513.69,206.52 L513.82,206.36 L514.03,206.08 L514.24,205.80 L514.44,205.53 L514.65,205.25 L514.86,204.98 L514.98,204.82 M519.08,199.60 L519.24,199.40 L519.45,199.14 L519.66,198.89 L519.87,198.63 L520.08,198.37 L520.28,198.12 L520.43,197.94 M524.69,192.88 L524.87,192.67 L525.08,192.43 L525.29,192.20 L525.50,191.96 L525.71,191.72 L525.92,191.48 L526.10,191.27 M530.54,186.37 L530.71,186.19 L530.92,185.96 L531.13,185.74 L531.34,185.52 L531.55,185.30 L531.76,185.08 L531.97,184.86 L532.01,184.81 M536.62,180.09 L536.76,179.94 L536.97,179.74 L537.18,179.53 L537.39,179.32 L537.60,179.12 L537.81,178.91 L538.02,178.71 L538.14,178.58 M542.92,174.04 L543.02,173.95 L543.23,173.76 L543.44,173.56 L543.65,173.37 L543.86,173.18 L544.07,172.99 L544.27,172.80 L544.48,172.61 L544.50,172.60 M549.44,168.24 L549.49,168.20 L549.70,168.03 L549.91,167.85 L550.12,167.67 L550.32,167.49 L550.53,167.32 L550.74,167.14 L550.95,166.97 L551.07,166.86 M556.17,162.70 L556.37,162.54 L556.58,162.38 L556.79,162.21 L557.00,162.05 L557.21,161.89 L557.42,161.72 L557.63,161.56 L557.83,161.40 L557.85,161.38 M563.10,157.42 L563.26,157.31 L563.47,157.15 L563.67,157.00 L563.88,156.85 L564.09,156.70 L564.30,156.55 L564.51,156.40 L564.72,156.25 L564.83,156.17 M570.20,152.41 L570.35,152.31 L570.56,152.17 L570.77,152.03 L570.98,151.89 L571.18,151.75 L571.39,151.61 L571.60,151.47 L571.81,151.33 L571.98,151.22 M577.48,147.66 L577.65,147.56 L577.86,147.43 L578.07,147.29 L578.28,147.16 L578.49,147.04 L578.69,146.91 L578.90,146.78 L579.11,146.65 L579.30,146.53 M584.91,143.18 L584.95,143.15 L585.16,143.03 L585.37,142.91 L585.58,142.79 L585.79,142.67 L586.00,142.55 L586.20,142.43 L586.41,142.31 L586.62,142.19 L586.77,142.11 M592.49,138.95 L592.67,138.85 L592.88,138.74 L593.09,138.62 L593.30,138.51 L593.51,138.40 L593.71,138.29 L593.92,138.18 L594.13,138.07 L594.34,137.96 L594.37,137.94 M600.18,134.97 L600.39,134.87 L600.60,134.76 L600.81,134.66 L601.02,134.56 L601.22,134.45 L601.43,134.35 L601.64,134.25 L601.85,134.15 L602.06,134.05 L602.10,134.02 M607.99,131.23 L608.11,131.18 L608.32,131.08 L608.52,130.99 L608.73,130.89 L608.94,130.80 L609.15,130.70 L609.36,130.61 L609.57,130.51 L609.78,130.42 L609.94,130.35 M615.89,127.73 L616.03,127.67 L616.24,127.58 L616.45,127.49 L616.66,127.41 L616.87,127.32 L617.08,127.23 L617.29,127.14 L617.49,127.05 L617.70,126.97 L617.86,126.90 M623.88,124.45 L623.96,124.42 L624.38,124.25 L624.80,124.09 L625.21,123.93 L625.63,123.76 L625.87,123.67 M631.95,121.38 L632.10,121.32 L632.31,121.25 L632.51,121.17 L632.72,121.10 L632.93,121.02 L633.14,120.94 L633.35,120.87 L633.56,120.79 L633.77,120.72 L633.96,120.65 M640.07,118.51 L640.23,118.45 L640.44,118.38 L640.65,118.31 L640.86,118.24 L641.07,118.17 L641.28,118.10 L641.48,118.03 L641.69,117.96 L641.90,117.89 L642.10,117.82 M648.26,115.82 L648.37,115.79 L648.79,115.66 L649.20,115.53 L649.62,115.40 L650.04,115.27 L650.30,115.19 M656.48,113.32 L656.50,113.31 L656.92,113.19 L657.34,113.07 L657.76,112.95 L658.17,112.83 L658.54,112.72 M664.75,110.98 L664.85,110.95 L665.27,110.84 L665.68,110.72 L666.10,110.61 L666.52,110.50 L666.82,110.42 M673.05,108.79 L673.19,108.76 L673.61,108.65 L674.03,108.55 L674.44,108.44 L674.86,108.34 L675.13,108.27 M681.38,106.75 L681.54,106.71 L681.95,106.62 L682.37,106.52 L682.79,106.42 L683.21,106.32 L683.47,106.26 M689.74,104.85 L689.88,104.81 L690.30,104.72 L690.72,104.63 L691.13,104.54 L691.55,104.45 L691.83,104.39 M698.11,103.07 L698.23,103.05 L698.64,102.96 L699.06,102.88 L699.48,102.79 L699.89,102.71 L700.20,102.64 M706.49,101.41 L706.57,101.40 L706.99,101.32 L707.40,101.24 L707.82,101.16 L708.24,101.08 L708.60,101.01 M714.89,99.86 L714.91,99.86 L715.33,99.78 L715.75,99.71 L716.17,99.64 L716.58,99.56 L717.00,99.49 L717.00,99.49 M723.30,98.42 L723.47,98.39 L723.88,98.32 L724.30,98.25 L724.72,98.18 L725.14,98.11 L725.41,98.07 M731.72,97.07 L731.81,97.05 L732.23,96.99 L732.65,96.92 L733.06,96.86 L733.48,96.80 L733.83,96.74 M740.14,95.81 L740.16,95.81 L740.57,95.75 L740.99,95.69 L741.41,95.63 L741.82,95.57 L742.24,95.51 L742.26,95.50 M748.56,94.63 L748.71,94.61 L749.13,94.56 L749.54,94.50 L749.96,94.44 L750.38,94.39 L750.68,94.35 M756.99,93.53 L757.05,93.53 L757.47,93.47 L757.89,93.42 L758.30,93.37 L758.72,93.32 L759.11,93.27 M765.41,92.51 L765.61,92.49 L766.02,92.44 L766.44,92.39 L766.86,92.34 L767.27,92.29 L767.54,92.26 M773.84,91.55 L773.95,91.54 L774.37,91.49 L774.78,91.45 L775.20,91.40 L775.62,91.36 L775.96,91.32 M782.26,90.66 L782.29,90.65 L782.71,90.61 L783.13,90.57 L783.55,90.52 L783.96,90.48 L784.38,90.44 L784.39,90.44" fill="none" stroke="#0f9fcb" stroke-width="2.1" stroke-linecap="round" stroke-linejoin="round"/>
<rect x="462.10" y="18.20" width="337.50" height="267.10" fill="none" stroke="#454545" stroke-width="1.3"/>
<line x1="474.60" y1="285.30" x2="474.60" y2="292.50" stroke="#454545" stroke-width="1.3"/>
<text x="474.60" y="311.2" class="tk">0</text>
<line x1="526.00" y1="285.30" x2="526.00" y2="292.50" stroke="#454545" stroke-width="1.3"/>
<text x="526.00" y="311.2" class="tk">60</text>
<line x1="577.41" y1="285.30" x2="577.41" y2="292.50" stroke="#454545" stroke-width="1.3"/>
<text x="577.41" y="311.2" class="tk">120</text>
<line x1="628.81" y1="285.30" x2="628.81" y2="292.50" stroke="#454545" stroke-width="1.3"/>
<text x="628.81" y="311.2" class="tk">180</text>
<line x1="680.21" y1="285.30" x2="680.21" y2="292.50" stroke="#454545" stroke-width="1.3"/>
<text x="680.21" y="311.2" class="tk">240</text>
<line x1="731.61" y1="285.30" x2="731.61" y2="292.50" stroke="#454545" stroke-width="1.3"/>
<text x="731.61" y="311.2" class="tk">300</text>
<line x1="787.30" y1="285.30" x2="787.30" y2="292.50" stroke="#454545" stroke-width="1.3"/>
<text x="787.30" y="311.2" class="tk">365</text>
<line x1="462.10" y1="275.50" x2="454.90" y2="275.50" stroke="#454545" stroke-width="1.3"/>
<text transform="translate(445.70,275.50) rotate(-90)" class="tk">0.0</text>
<line x1="462.10" y1="226.02" x2="454.90" y2="226.02" stroke="#454545" stroke-width="1.3"/>
<text transform="translate(445.70,226.02) rotate(-90)" class="tk">0.2</text>
<line x1="462.10" y1="176.54" x2="454.90" y2="176.54" stroke="#454545" stroke-width="1.3"/>
<text transform="translate(445.70,176.54) rotate(-90)" class="tk">0.4</text>
<line x1="462.10" y1="127.06" x2="454.90" y2="127.06" stroke="#454545" stroke-width="1.3"/>
<text transform="translate(445.70,127.06) rotate(-90)" class="tk">0.6</text>
<line x1="462.10" y1="77.58" x2="454.90" y2="77.58" stroke="#454545" stroke-width="1.3"/>
<text transform="translate(445.70,77.58) rotate(-90)" class="tk">0.8</text>
<line x1="462.10" y1="28.10" x2="454.90" y2="28.10" stroke="#454545" stroke-width="1.3"/>
<text transform="translate(445.70,28.10) rotate(-90)" class="tk">1.0</text>
<text x="630.9" y="339.2" class="lab">Time (days)</text>
<text transform="translate(417.80,151.75) rotate(-90)" class="lab">Cumulative incidence</text>
<rect x="240.5" y="347.8" width="330.8" height="21.6" fill="none" stroke="#454545" stroke-width="1.3"/>
<line x1="248.80" y1="358.6" x2="265.30" y2="358.6" stroke="#0f9fcb" stroke-width="1.7" stroke-linecap="round" stroke-dasharray="1.4 4.18"/>
<text x="273.60" y="362.4" class="lg">Z1=0, Z2=0</text>
<line x1="330.47" y1="358.6" x2="346.97" y2="358.6" stroke="#52c2ea" stroke-width="1.7" stroke-linecap="round" stroke-dasharray="1.4 4.18 5.58 4.18"/>
<text x="355.35" y="362.4" class="lg">Z1=0, Z2=1</text>
<line x1="412.14" y1="358.6" x2="428.64" y2="358.6" stroke="#dba68e" stroke-width="1.7" stroke-linecap="round" stroke-dasharray="5.58 5.58"/>
<text x="437.10" y="362.4" class="lg">Z1=1, Z2=0</text>
<line x1="493.81" y1="358.6" x2="510.31" y2="358.6" stroke="#9e592a" stroke-width="1.7" stroke-linecap="round"/>
<text x="518.85" y="362.4" class="lg">Z1=1, Z2=1</text>
</svg>
</body></html>
